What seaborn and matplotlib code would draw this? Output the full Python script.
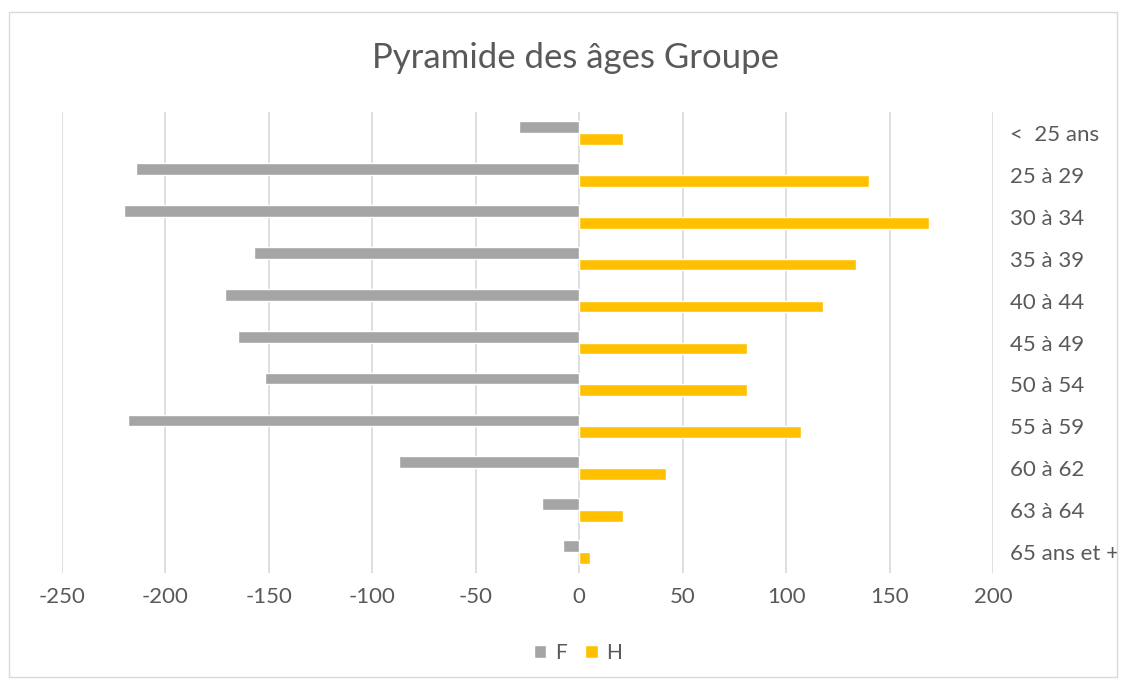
import pandas as pd
import matplotlib.pyplot as plt
import seaborn as sns
from matplotlib.patches import Patch, Rectangle


categories = ['<  25 ans', '25 à 29', '30 à 34', '35 à 39', '40 à 44', '45 à 49',
              '50 à 54', '55 à 59', '60 à 62', '63 à 64', '65 ans et +']
femmes = [-29, -214, -220, -157, -171, -165, -152, -218, -87, -18, -8]
hommes = [21, 140, 169, 134, 118, 81, 81, 107, 42, 21, 5]
xticks = [-250, -200, -150, -100, -50, 0, 50, 100, 150, 200]

grey = '#A5A5A5'
yellow = '#FFC000'
txt = '#595959'

data = pd.DataFrame({
    'age': categories * 2,
    'valeur': femmes + hommes,
    'sexe': ['F'] * len(categories) + ['H'] * len(categories),
})

sns.set_style('white')
plt.rcParams['font.family'] = ['Lato', 'DejaVu Sans']

fig = plt.figure(figsize=(11.26, 6.83), dpi=100)
ax = fig.add_axes([62 / 1126, 1 - 573 / 683, (993 - 62) / 1126, (573 - 112) / 683])

sns.barplot(data=data, x='valeur', y='age', hue='sexe', orient='h',
            palette={'F': grey, 'H': yellow}, width=0.56, saturation=1, ax=ax,
            legend=False, order=categories, hue_order=['F', 'H'])

ax.set_xlim(-250, 200)
ax.set_xticks(xticks)
ax.set_xticklabels([str(v) for v in xticks], color=txt, fontsize=16)
ax.tick_params(axis='x', length=0, pad=10)
ax.grid(axis='x', color='#D9D9D9', linewidth=1.2)
ax.set_axisbelow(True)

ax.yaxis.tick_right()
ax.tick_params(axis='y', length=0, pad=12, labelsize=16, labelcolor=txt)
ax.set_xlabel('')
ax.set_ylabel('')
for s in ax.spines.values():
    s.set_visible(False)

fig.text(575 / 1126, 1 - 58 / 683, 'Pyramide des âges Groupe', ha='center', va='center',
         fontsize=25, color=txt)

handles = [Patch(facecolor=grey, label='F'), Patch(facecolor=yellow, label='H')]
fig.legend(handles=handles, loc='center', bbox_to_anchor=(578 / 1126, 1 - 653 / 683),
           ncol=2, frameon=False, fontsize=15, labelcolor=txt,
           handlelength=0.6, handleheight=0.6, handletextpad=0.4, columnspacing=0.9)

fig.patches.append(Rectangle((9 / 1126, 1 - 677 / 683), 1108 / 1126, 665 / 683,
                             transform=fig.transFigure, fill=False,
                             edgecolor='#D9D9D9', linewidth=1))

plt.savefig('out.png', dpi=100)
